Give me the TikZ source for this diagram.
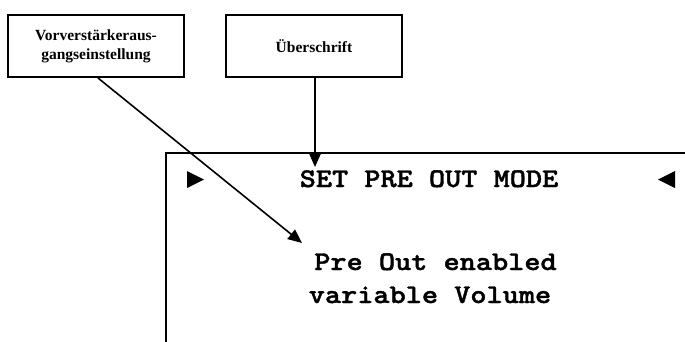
\documentclass[tikz,border=0pt]{standalone}
\usepackage{fontspec}
\setmainfont{Liberation Serif}
\newfontfamily\lcdfont{Latin Modern Mono Light}[FakeStretch=1.14, BoldFeatures={FakeBold=1.5}]
\usetikzlibrary{arrows.meta}
\tikzset{
  labelbox/.style={draw, line width=2pt, minimum width=176pt, minimum height=62pt,
    inner sep=0pt, align=center, font=\fontsize{15.5}{19}\selectfont\bfseries},
  lcdtext/.style={anchor=base, inner sep=0pt, font=\fontsize{27}{33}\selectfont\lcdfont\bfseries},
  pointer/.style={line width=1.6pt, -{Triangle[length=14pt, width=12pt]}},
  frame/.style={line width=2pt}
}
\begin{document}
\begin{tikzpicture}[x=1pt, y=-1pt]
  \useasboundingbox (0,0) rectangle (685,341);

  % callout boxes
  \node[labelbox] (mode) at (96,46) {Vorverstärkeraus-\\gangseinstellung};
  \node[labelbox] (head) at (314,46) {Überschrift};

  % display frame, running off the right and bottom edges
  \draw[frame] (166,350) -- (166,153) -- (695,153);

  % display contents
  \fill (187,171) -- (204,179.5) -- (187,188) -- cycle;
  \fill (675,171) -- (658,179.5) -- (675,188) -- cycle;
  \node[lcdtext] (title) at (429,187) {SET PRE OUT MODE};
  \node[lcdtext] (line1) at (435.5,270) {Pre Out enabled};
  \node[lcdtext] (line2) at (430,303) {variable Volume};

  % pointers into the display
  \coordinate (headtip) at (315,167);
  \coordinate (modetip) at (302,243);
  \draw[pointer] (head.south -| headtip) -- (headtip);
  \draw[pointer] ([xshift=2pt]mode.south) -- (modetip);
\end{tikzpicture}
\end{document}
